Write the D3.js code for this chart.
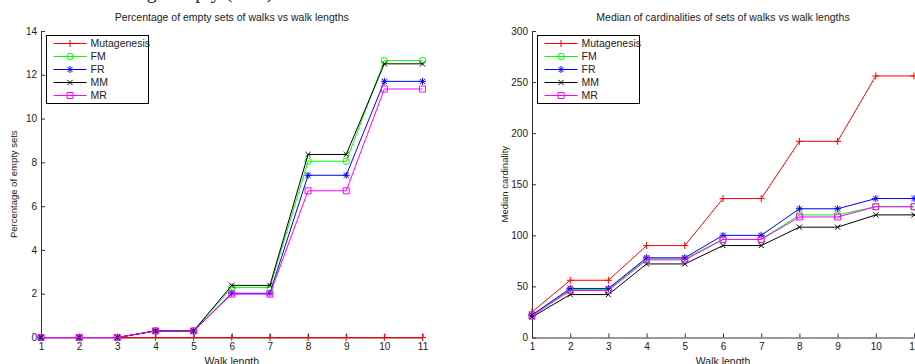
<!DOCTYPE html>
<html>
<head>
<meta charset="utf-8">
<script src="https://cdn.jsdelivr.net/npm/d3@7"></script>
<style>
  html, body { margin: 0; padding: 0; background: #fff; }
  svg { display: block; font-family: "Liberation Sans", Arial, sans-serif; }
</style>
</head>
<body>
<svg id="chart" width="915" height="364"></svg>
<script>
// ---- data ----
const walkLengths = [1, 2, 3, 4, 5, 6, 7, 8, 9, 10, 11];
const seriesNames = ["Mutagenesis", "FM", "FR", "MM", "MR"];
const seriesColors = ["#ff0000", "#00ff00", "#0000ff", "#000000", "#ff00ff"];
const seriesMarkers = ["plus", "circle", "star", "cross", "square"];

// Left: percentage of empty sets
const emptyMutagenesis = [0, 0, 0, 0, 0, 0, 0, 0, 0, 0, 0];
const emptyFM = [0, 0, 0, 0.3, 0.3, 2.28, 2.28, 8.05, 8.05, 12.65, 12.65];
const emptyFR = [0, 0, 0, 0.3, 0.3, 2.02, 2.02, 7.41, 7.41, 11.7, 11.7];
const emptyMM = [0, 0, 0, 0.3, 0.3, 2.38, 2.38, 8.36, 8.36, 12.5, 12.5];
const emptyMR = [0, 0, 0, 0.3, 0.3, 1.98, 1.98, 6.7, 6.7, 11.35, 11.35];
const emptyTicks = [0, 2, 4, 6, 8, 10, 12, 14];

// Right: median cardinality
const medMutagenesis = [25, 56, 56, 90, 90, 136, 136, 192, 192, 256, 256];
const medFM = [22, 47, 47, 77, 77, 96, 96, 120, 120, 128, 128];
const medFR = [22, 48, 48, 78, 78, 100, 100, 126, 126, 136, 136];
const medMM = [20, 42, 42, 72, 72, 90, 90, 108, 108, 120, 120];
const medMR = [21, 46, 46, 76, 76, 96, 96, 118, 118, 128, 128];
const medTicks = [0, 50, 100, 150, 200, 250, 300];

const svg = d3.select("#chart");

// partially visible caption above the figure (only descenders show)
svg.append("text")
  .attr("x", 78).attr("y", -2)
  .attr("font-family", "Liberation Serif, Times New Roman, serif")
  .attr("font-size", 20)
  .attr("fill", "#222")
  .text("Percentage empty (PES)");

function markerPath(type) {
  const p = d3.path();
  if (type === "plus") {
    p.moveTo(-3.5, 0); p.lineTo(3.5, 0); p.moveTo(0, -3.5); p.lineTo(0, 3.5);
  } else if (type === "circle") {
    p.moveTo(3.2, 0); p.arc(0, 0, 3.2, 0, 2 * Math.PI);
  } else if (type === "star") {
    p.moveTo(-3.5, 0); p.lineTo(3.5, 0); p.moveTo(0, -3.5); p.lineTo(0, 3.5);
    p.moveTo(-2.6, -2.6); p.lineTo(2.6, 2.6); p.moveTo(-2.6, 2.6); p.lineTo(2.6, -2.6);
  } else if (type === "cross") {
    p.moveTo(-2.6, -2.6); p.lineTo(2.6, 2.6); p.moveTo(-2.6, 2.6); p.lineTo(2.6, -2.6);
  } else if (type === "square") {
    p.rect(-3, -3, 6, 6);
  }
  return p.toString();
}

function drawPanel(opts) {
  const { left, right, top, bottom, yMax, yTicks, series, title, yLabel } = opts;
  const x = d3.scaleLinear().domain([1, 11]).range([left, right]);
  const y = d3.scaleLinear().domain([0, yMax]).range([bottom, top]);
  const g = svg.append("g");

  // title
  g.append("text")
    .attr("x", (left + right) / 2).attr("y", 21)
    .attr("text-anchor", "middle").attr("font-size", 10.5).attr("fill", "#222")
    .text(title);

  // y axis (ticks inward)
  const yAxis = d3.axisLeft(y).tickValues(yTicks).tickSizeInner(-4).tickSizeOuter(0).tickPadding(4);
  const ya = g.append("g").attr("transform", `translate(${left},0)`).call(yAxis);
  ya.select(".domain").attr("stroke", "#333");
  ya.selectAll(".tick line").attr("stroke", "#333");
  ya.selectAll("text").attr("font-size", 10).attr("fill", "#222").attr("font-family", "Liberation Sans, Arial, sans-serif");

  // x axis (ticks inward)
  const xAxis = d3.axisBottom(x).tickValues(walkLengths).tickSizeInner(-4).tickSizeOuter(0).tickPadding(5);
  const xa = g.append("g").attr("transform", `translate(0,${bottom})`).call(xAxis);
  xa.select(".domain").attr("stroke", "#333");
  xa.selectAll(".tick line").attr("stroke", "#333");
  xa.selectAll("text").attr("font-size", 10).attr("fill", "#222").attr("font-family", "Liberation Sans, Arial, sans-serif");

  // labels
  g.append("text")
    .attr("x", (left + right) / 2).attr("y", 364.5)
    .attr("text-anchor", "middle").attr("font-size", 10.5).attr("fill", "#222")
    .text("Walk length");
  g.append("text")
    .attr("transform", `translate(${left - 24},${(top + bottom) / 2}) rotate(-90)`)
    .attr("text-anchor", "middle").attr("font-size", 9.5).attr("fill", "#222")
    .text(yLabel);

  // series
  const line = d3.line().x((d, i) => x(walkLengths[i])).y(d => y(d));
  series.forEach((vals, si) => {
    const col = seriesColors[si];
    g.append("path").datum(vals)
      .attr("d", line).attr("fill", "none").attr("stroke", col).attr("stroke-width", 1);
    g.selectAll(null).data(vals).enter().append("path")
      .attr("transform", (d, i) => `translate(${x(walkLengths[i])},${y(d)})`)
      .attr("d", markerPath(seriesMarkers[si]))
      .attr("fill", "none").attr("stroke", col).attr("stroke-width", 1);
  });

  // legend
  const lx = Math.round(left + 5) + 0.5, ly = 35.5, lw = 102, lh = 68;
  const lg = g.append("g");
  lg.append("rect").attr("x", lx).attr("y", ly).attr("width", lw).attr("height", lh)
    .attr("fill", "#fff").attr("stroke", "#000").attr("stroke-width", 1);
  seriesNames.forEach((name, si) => {
    const yy = ly + 8 + si * 13;
    lg.append("line").attr("x1", lx + 7).attr("x2", lx + 40).attr("y1", yy).attr("y2", yy)
      .attr("stroke", seriesColors[si]).attr("stroke-width", 1);
    lg.append("path").attr("transform", `translate(${lx + 23.5},${yy})`)
      .attr("d", markerPath(seriesMarkers[si]))
      .attr("fill", "none").attr("stroke", seriesColors[si]).attr("stroke-width", 1);
    lg.append("text").attr("x", lx + 44).attr("y", yy + 3.8)
      .attr("font-size", 10.5).attr("fill", "#222").text(name);
  });
}

drawPanel({
  left: 41, right: 422.5, top: 31, bottom: 337.5, yMax: 14, yTicks: emptyTicks,
  series: [emptyMutagenesis, emptyFM, emptyFR, emptyMM, emptyMR],
  title: "Percentage of empty sets of walks vs walk lengths",
  yLabel: "Percentage of empty sets"
});

drawPanel({
  left: 532, right: 914, top: 31, bottom: 337.5, yMax: 300, yTicks: medTicks,
  series: [medMutagenesis, medFM, medFR, medMM, medMR],
  title: "Median of cardinalities of sets of walks vs walk lengths",
  yLabel: "Median cardinality"
});
</script>
</body>
</html>
